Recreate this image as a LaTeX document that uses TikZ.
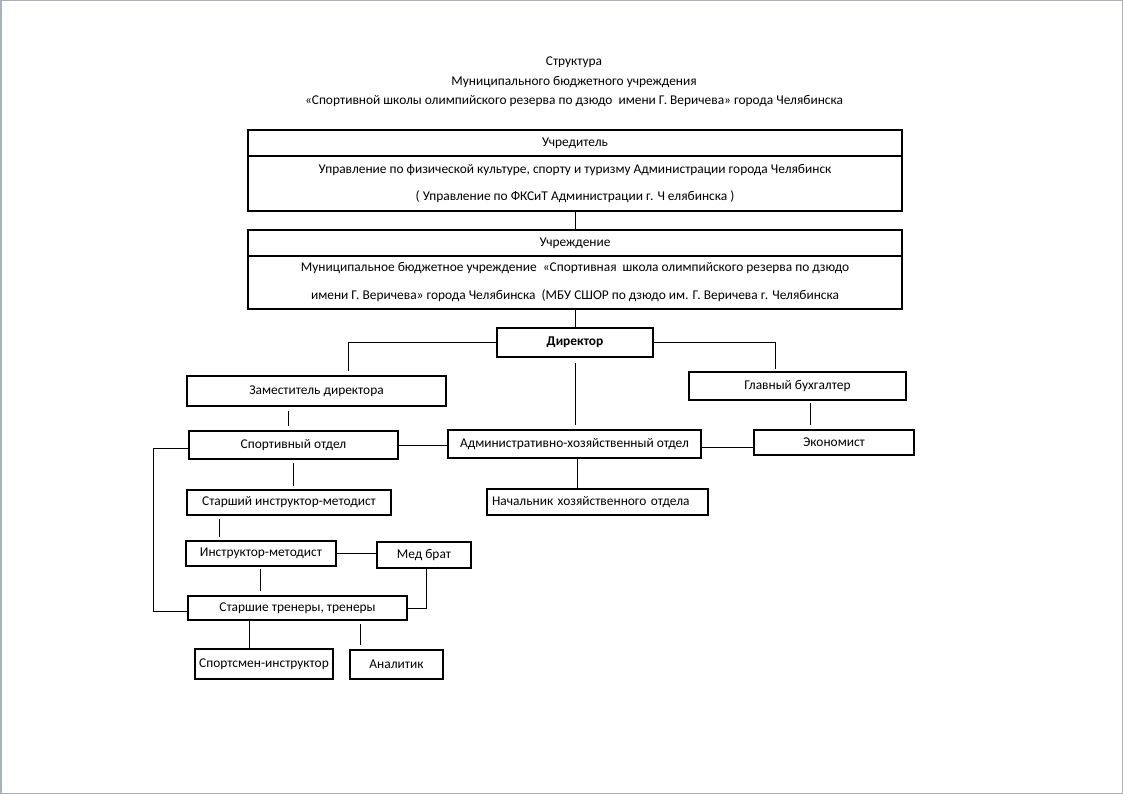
\documentclass[tikz,border=0pt]{standalone}
\usepackage{fontspec}
\setmainfont{Carlito}
\begin{document}
\begin{tikzpicture}[x=1pt,y=-1pt,
  bx/.style={draw, line width=2.2pt, inner sep=0pt, font=\fontsize{13.4}{15}\selectfont},
  cn/.style={line width=0.9pt},
  txt/.style={inner sep=0pt, font=\fontsize{13.4}{15}\selectfont}]
\useasboundingbox (0,0) rectangle (1123,794);
\draw[color={rgb,255:red,170;green,176;blue,186}, line width=1.5pt] (0.75,0.75) rectangle (1122.25,793.25);
% title
\node[txt, align=center, font=\fontsize{13.4}{19.5}\selectfont] (title) at (574,82)
  {Структура\\Муниципального бюджетного учреждения\\«Спортивной школы олимпийского резерва по дзюдо\ \ имени Г. Веричева» города Челябинска};
% founder
\node[bx, minimum width=654pt, minimum height=26pt] (u1h) at (575,143) {Учредитель};
\node[bx, minimum width=654pt, minimum height=55pt, align=center, font=\fontsize{13.4}{27}\selectfont] (u1b) at (575,183.5)
  {Управление по физической культуре, спорту и туризму Администрации города Челябинск\\( Управление по ФКСиТ Администрации г. Ч елябинска )};
% institution
\node[bx, minimum width=654pt, minimum height=26pt] (u2h) at (575,243) {Учреждение};
\node[bx, minimum width=654pt, minimum height=53pt, align=center, font=\fontsize{13.4}{28}\selectfont] (u2b) at (575,282.5)
  {Муниципальное бюджетное учреждение\ \ «Спортивная\ \ школа олимпийского резерва по дзюдо\\имени Г. Веричева» города Челябинска\ \ (МБУ СШОР по дзюдо им. Г. Веричева г. Челябинска};
\node[bx, minimum width=156pt, minimum height=29pt, font=\fontsize{13.4}{15}\selectfont\bfseries] (dir) at (575,342.5) {Директор};
\node[bx, minimum width=259pt, minimum height=30pt] (zam) at (316.5,391) {Заместитель директора};
\node[bx, minimum width=217pt, minimum height=28pt] (gb) at (797.5,386) {Главный бухгалтер};
\node[bx, minimum width=253pt, minimum height=28pt] (aho) at (574.5,444) {Административно-хозяйственный отдел};
\node[bx, minimum width=209pt, minimum height=28pt] (sport) at (293.5,445) {Спортивный отдел};
\node[bx, minimum width=160pt, minimum height=25pt] (eko) at (834,442.5) {Экономист};
\node[bx, minimum width=221pt, minimum height=26pt, text width=211pt, inner xsep=5pt, align=left] (nach) at (597.5,502) {Начальник хозяйственного отдела};
\node[bx, minimum width=204pt, minimum height=25pt] (sim) at (289,502.5) {Старший инструктор-методист};
\node[bx, minimum width=150pt, minimum height=25pt] (im) at (261,553.5) {Инструктор-методист};
\node[bx, minimum width=94pt, minimum height=26pt] (med) at (424,555) {Мед брат};
\node[bx, minimum width=219pt, minimum height=24pt] (tr) at (297.5,608) {Старшие тренеры, тренеры};
\node[bx, minimum width=138pt, minimum height=30pt] (sp) at (264,664) {Спортсмен-инструктор};
\node[bx, minimum width=93pt, minimum height=29pt] (an) at (396.5,664.5) {Аналитик};
% connectors
\draw[cn] (u1b.south) -- (u2h.north);
\draw[cn] (u2b.south) -- (dir.north);
\draw[cn] (dir.west) -| ([xshift=31.5pt,yshift=4pt]zam.north);
\draw[cn] (dir.east) -| ([xshift=-22.5pt,yshift=2pt]gb.north);
\draw[cn] ([yshift=-5pt]dir.south) -- ([yshift=4pt]dir.south |- aho.north);
\draw[cn] ([xshift=-28.5pt,yshift=-4pt]zam.south) -- ([xshift=-5.5pt,yshift=4pt]sport.north);
\draw[cn] (sport.east) -- (sport.east -| aho.west);
\draw[cn] ([yshift=-3pt]aho.east) -- ([yshift=-3pt]aho.east -| eko.west);
\draw[cn] ([xshift=12.5pt,yshift=-2pt]gb.south) -- ([xshift=12.5pt,yshift=4pt]gb.south |- eko.north);
\draw[cn] ([xshift=2.5pt]aho.south) -- ([xshift=2.5pt]aho.south |- nach.north);
\draw[cn] ([yshift=-3pt]sport.south) -- ([yshift=3pt]sport.south |- sim.north);
\draw[cn] ([xshift=-70pt,yshift=-3pt]sim.south) -- ([xshift=-70pt,yshift=3pt]sim.south |- im.north);
\draw[cn] (im.east) -- (im.east -| med.west);
\draw[cn] ([xshift=-1pt,yshift=-2pt]im.south) -- ([xshift=-1pt,yshift=4pt]im.south |- tr.north);
\draw[cn] ([xshift=2pt]med.south) |- (tr.east);
\draw[cn] ([yshift=-3pt]sport.west) -- ++(-34,0) |- ([yshift=-3pt]tr.west);
\draw[cn] ([xshift=-48.5pt]tr.south) -- ([xshift=-48.5pt]tr.south |- sp.north);
\draw[cn] ([xshift=62.5pt,yshift=-3pt]tr.south) -- ([xshift=62.5pt,yshift=4pt]tr.south |- an.north);
\end{tikzpicture}
\end{document}
